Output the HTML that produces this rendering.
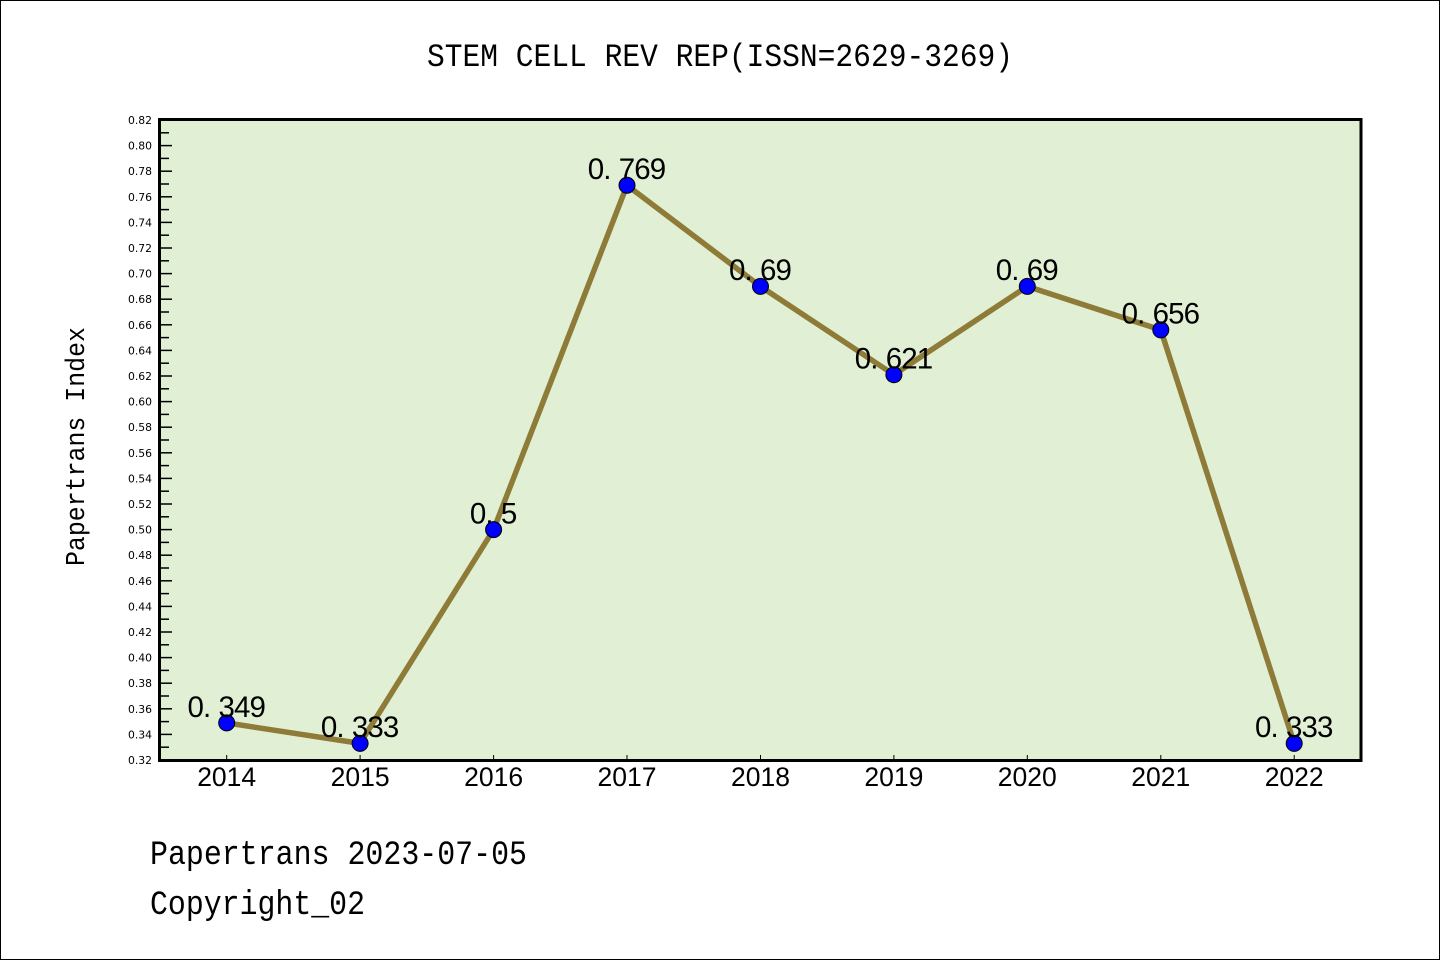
<!DOCTYPE html>
<html>
<head>
<meta charset="utf-8">
<style>
  html, body { margin: 0; padding: 0; background: #ffffff; }
  svg { display: block; }
</style>
</head>
<body>
<svg width="1440" height="960" viewBox="0 0 1440 960" xmlns="http://www.w3.org/2000/svg">
  <!-- outer border -->
  <rect x="0.5" y="0.5" width="1439" height="959" fill="#ffffff" stroke="#000" stroke-width="1"/>

  <!-- title -->
  <text x="427" y="66" font-family="'Liberation Mono', monospace" font-size="32" fill="#000" textLength="586" lengthAdjust="spacingAndGlyphs">STEM CELL REV REP(ISSN=2629-3269)</text>

  <!-- plot background -->
  <rect x="159.5" y="119.5" width="1201.5" height="641" fill="#E1EFD5"/>

  <!-- y tick labels -->
  <g font-family="'DejaVu Sans', sans-serif" font-size="10.8" fill="#000" text-anchor="end">
    <text x="152" y="124">0.82</text>
    <text x="152" y="149.6">0.80</text>
    <text x="152" y="175.2">0.78</text>
    <text x="152" y="200.8">0.76</text>
    <text x="152" y="226.4">0.74</text>
    <text x="152" y="252">0.72</text>
    <text x="152" y="277.6">0.70</text>
    <text x="152" y="303.2">0.68</text>
    <text x="152" y="328.8">0.66</text>
    <text x="152" y="354.4">0.64</text>
    <text x="152" y="380">0.62</text>
    <text x="152" y="405.6">0.60</text>
    <text x="152" y="431.2">0.58</text>
    <text x="152" y="456.8">0.56</text>
    <text x="152" y="482.4">0.54</text>
    <text x="152" y="508">0.52</text>
    <text x="152" y="533.6">0.50</text>
    <text x="152" y="559.2">0.48</text>
    <text x="152" y="584.8">0.46</text>
    <text x="152" y="610.4">0.44</text>
    <text x="152" y="636">0.42</text>
    <text x="152" y="661.6">0.40</text>
    <text x="152" y="687.2">0.38</text>
    <text x="152" y="712.8">0.36</text>
    <text x="152" y="738.4">0.34</text>
    <text x="152" y="764">0.32</text>
  </g>

  <!-- y ticks: major -->
  <g stroke="#000" stroke-width="1.5">
    <line x1="161" y1="145.6" x2="172" y2="145.6"/>
    <line x1="161" y1="171.2" x2="172" y2="171.2"/>
    <line x1="161" y1="196.8" x2="172" y2="196.8"/>
    <line x1="161" y1="222.4" x2="172" y2="222.4"/>
    <line x1="161" y1="248" x2="172" y2="248"/>
    <line x1="161" y1="273.6" x2="172" y2="273.6"/>
    <line x1="161" y1="299.2" x2="172" y2="299.2"/>
    <line x1="161" y1="324.8" x2="172" y2="324.8"/>
    <line x1="161" y1="350.4" x2="172" y2="350.4"/>
    <line x1="161" y1="376" x2="172" y2="376"/>
    <line x1="161" y1="401.6" x2="172" y2="401.6"/>
    <line x1="161" y1="427.2" x2="172" y2="427.2"/>
    <line x1="161" y1="452.8" x2="172" y2="452.8"/>
    <line x1="161" y1="478.4" x2="172" y2="478.4"/>
    <line x1="161" y1="504" x2="172" y2="504"/>
    <line x1="161" y1="529.6" x2="172" y2="529.6"/>
    <line x1="161" y1="555.2" x2="172" y2="555.2"/>
    <line x1="161" y1="580.8" x2="172" y2="580.8"/>
    <line x1="161" y1="606.4" x2="172" y2="606.4"/>
    <line x1="161" y1="632" x2="172" y2="632"/>
    <line x1="161" y1="657.6" x2="172" y2="657.6"/>
    <line x1="161" y1="683.2" x2="172" y2="683.2"/>
    <line x1="161" y1="708.8" x2="172" y2="708.8"/>
    <line x1="161" y1="734.4" x2="172" y2="734.4"/>
  </g>
  <!-- y ticks: minor -->
  <g stroke="#000" stroke-width="1.5">
    <line x1="161" y1="132.8" x2="169" y2="132.8"/>
    <line x1="161" y1="158.4" x2="169" y2="158.4"/>
    <line x1="161" y1="184" x2="169" y2="184"/>
    <line x1="161" y1="209.6" x2="169" y2="209.6"/>
    <line x1="161" y1="235.2" x2="169" y2="235.2"/>
    <line x1="161" y1="260.8" x2="169" y2="260.8"/>
    <line x1="161" y1="286.4" x2="169" y2="286.4"/>
    <line x1="161" y1="312" x2="169" y2="312"/>
    <line x1="161" y1="337.6" x2="169" y2="337.6"/>
    <line x1="161" y1="363.2" x2="169" y2="363.2"/>
    <line x1="161" y1="388.8" x2="169" y2="388.8"/>
    <line x1="161" y1="414.4" x2="169" y2="414.4"/>
    <line x1="161" y1="440" x2="169" y2="440"/>
    <line x1="161" y1="465.6" x2="169" y2="465.6"/>
    <line x1="161" y1="491.2" x2="169" y2="491.2"/>
    <line x1="161" y1="516.8" x2="169" y2="516.8"/>
    <line x1="161" y1="542.4" x2="169" y2="542.4"/>
    <line x1="161" y1="568" x2="169" y2="568"/>
    <line x1="161" y1="593.6" x2="169" y2="593.6"/>
    <line x1="161" y1="619.2" x2="169" y2="619.2"/>
    <line x1="161" y1="644.8" x2="169" y2="644.8"/>
    <line x1="161" y1="670.4" x2="169" y2="670.4"/>
    <line x1="161" y1="696" x2="169" y2="696"/>
    <line x1="161" y1="721.6" x2="169" y2="721.6"/>
    <line x1="161" y1="747.2" x2="169" y2="747.2"/>
  </g>

  <!-- x ticks -->
  <g stroke="#000" stroke-width="1">
    <line x1="226.7" y1="755" x2="226.7" y2="760"/>
    <line x1="360.1" y1="755" x2="360.1" y2="760"/>
    <line x1="493.6" y1="755" x2="493.6" y2="760"/>
    <line x1="627.0" y1="755" x2="627.0" y2="760"/>
    <line x1="760.5" y1="755" x2="760.5" y2="760"/>
    <line x1="893.9" y1="755" x2="893.9" y2="760"/>
    <line x1="1027.3" y1="755" x2="1027.3" y2="760"/>
    <line x1="1160.8" y1="755" x2="1160.8" y2="760"/>
    <line x1="1294.2" y1="755" x2="1294.2" y2="760"/>
  </g>

  <!-- data line -->
  <polyline fill="none" stroke="#8E7B37" stroke-width="5.5" stroke-linejoin="round" stroke-linecap="round"
    points="226.7,722.9 360.1,743.4 493.6,529.6 627.0,185.3 760.5,286.4 893.9,374.7 1027.3,286.4 1160.8,329.9 1294.2,743.4"/>

  <!-- markers -->
  <g fill="#0000FF" stroke="#000" stroke-width="1">
    <circle cx="226.7" cy="722.9" r="8"/>
    <circle cx="360.1" cy="743.4" r="8"/>
    <circle cx="493.6" cy="529.6" r="8"/>
    <circle cx="627.0" cy="185.3" r="8"/>
    <circle cx="760.5" cy="286.4" r="8"/>
    <circle cx="893.9" cy="374.7" r="8"/>
    <circle cx="1027.3" cy="286.4" r="8"/>
    <circle cx="1160.8" cy="329.9" r="8"/>
    <circle cx="1294.2" cy="743.4" r="8"/>
  </g>

  <!-- data labels (monospaced cells of 15.5px) -->
  <g font-family="'Liberation Sans', sans-serif" font-size="29.5" fill="#000">
    <text x="187.5 203 218.5 234 249.5" y="717">0.349</text>
    <text x="320.9 336.4 351.9 367.4 382.9" y="737">0.333</text>
    <text x="469.9 485.4 500.9" y="523.5">0.5</text>
    <text x="587.8 603.3 618.8 634.3 649.8" y="179">0.769</text>
    <text x="729 744.5 760 775.5" y="280">0.69</text>
    <text x="854.7 870.2 885.7 901.2 916.7" y="368.5">0.621</text>
    <text x="995.8 1011.3 1026.8 1042.3" y="280">0.69</text>
    <text x="1121.6 1137.1 1152.6 1168.1 1183.6" y="323.5">0.656</text>
    <text x="1255 1270.5 1286 1301.5 1317" y="737">0.333</text>
  </g>

  <!-- plot frame -->
  <rect x="159.5" y="119.5" width="1201.5" height="641" fill="none" stroke="#000" stroke-width="3"/>

  <!-- x tick labels -->
  <g font-family="'Liberation Sans', sans-serif" font-size="27" fill="#000" text-anchor="middle">
    <text x="226.7" y="786" textLength="59" lengthAdjust="spacingAndGlyphs">2014</text>
    <text x="360.1" y="786" textLength="59" lengthAdjust="spacingAndGlyphs">2015</text>
    <text x="493.6" y="786" textLength="59" lengthAdjust="spacingAndGlyphs">2016</text>
    <text x="627.0" y="786" textLength="59" lengthAdjust="spacingAndGlyphs">2017</text>
    <text x="760.5" y="786" textLength="59" lengthAdjust="spacingAndGlyphs">2018</text>
    <text x="893.9" y="786" textLength="59" lengthAdjust="spacingAndGlyphs">2019</text>
    <text x="1027.3" y="786" textLength="59" lengthAdjust="spacingAndGlyphs">2020</text>
    <text x="1160.8" y="786" textLength="59" lengthAdjust="spacingAndGlyphs">2021</text>
    <text x="1294.2" y="786" textLength="59" lengthAdjust="spacingAndGlyphs">2022</text>
  </g>

  <!-- y axis label -->
  <text transform="translate(84,566) rotate(-90)" x="0" y="0" font-family="'Liberation Mono', monospace" font-size="27" fill="#000" textLength="239" lengthAdjust="spacingAndGlyphs">Papertrans Index</text>

  <!-- footer -->
  <text x="150" y="864" font-family="'Liberation Mono', monospace" font-size="34" fill="#000" textLength="377" lengthAdjust="spacingAndGlyphs">Papertrans 2023-07-05</text>
  <text x="150" y="914" font-family="'Liberation Mono', monospace" font-size="34" fill="#000" textLength="215" lengthAdjust="spacingAndGlyphs">Copyright_02</text>
</svg>
</body>
</html>
